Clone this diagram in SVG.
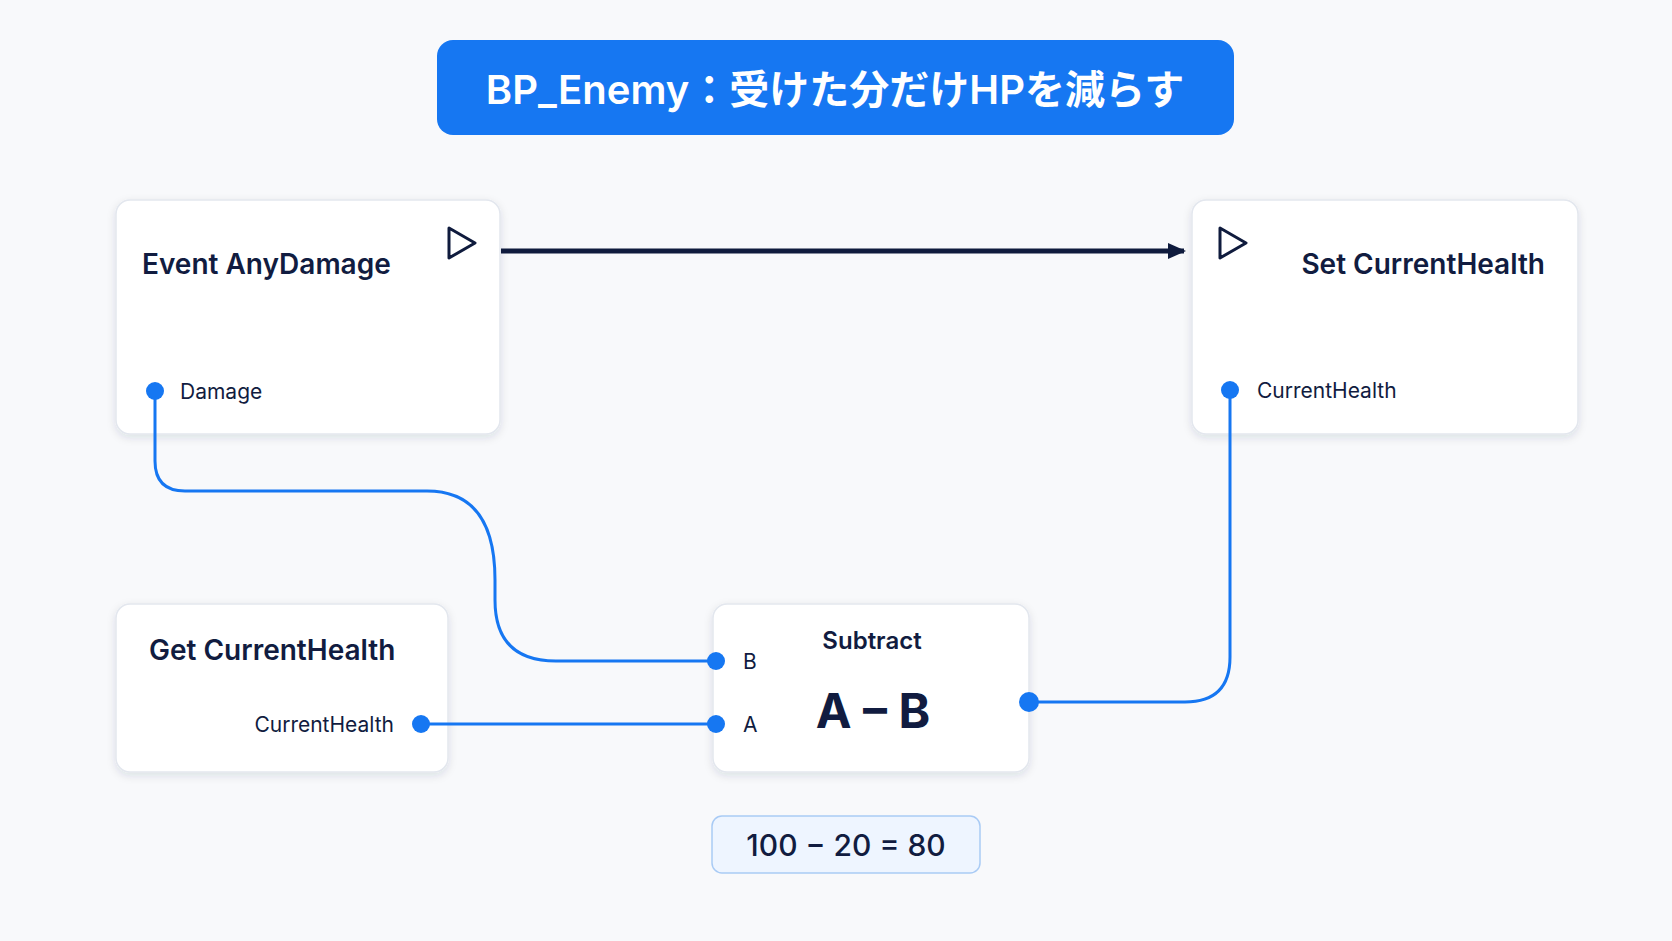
<svg xmlns="http://www.w3.org/2000/svg" width="1672" height="941" viewBox="0 0 1672 941">
<defs>
<filter id="sh" x="-10%" y="-10%" width="120%" height="130%"><feDropShadow dx="0" dy="3" stdDeviation="4" flood-color="#1a2a50" flood-opacity="0.12"/></filter>
<marker id="ah" markerWidth="20" markerHeight="20" refX="16" refY="10" orient="auto" markerUnits="userSpaceOnUse" viewBox="0 0 20 20"><path d="M0,2 L18,10 L0,18 z" fill="#0f1b3d"/></marker>
<style>
text{font-family:"Inter","Noto Sans","Noto Sans CJK JP",sans-serif;fill:#111c40}
.node{fill:#fff;stroke:#e3e7ee;stroke-width:1.5;filter:url(#sh)}
.t{font-size:28px;font-weight:600}
.p{font-size:21px}
.pin{fill:#1677f2}
.w{fill:none;stroke:#1677f2;stroke-width:3}
.ex{fill:none;stroke:#0f1b3d;stroke-width:3;stroke-linejoin:round}
</style>
</defs>
<rect width="1672" height="941" fill="#f8f9fb"/>
<g id="title">
<rect x="437" y="40" width="797" height="95" rx="16" fill="#1677f2"/>
<text x="835" y="104" text-anchor="middle" style="font-size:40px;font-weight:600;fill:#fff">BP_Enemy：受けた分だけHPを減らす</text>
</g>
<g id="event">
<rect class="node" x="116" y="200" width="384" height="234" rx="14"/>
<text class="t" x="142" y="274">Event AnyDamage</text>
<path class="ex" d="M449,228 L475,243 L449,258 Z"/>
<text class="p" x="180" y="399">Damage</text>
</g>
<g id="set">
<rect class="node" x="1192" y="200" width="386" height="234" rx="14"/>
<path class="ex" d="M1220,228 L1246,243 L1220,258 Z"/>
<text class="t" x="1545" y="274" text-anchor="end">Set CurrentHealth</text>
<text class="p" x="1257" y="398">CurrentHealth</text>
</g>
<g id="get">
<rect class="node" x="116" y="604" width="332" height="168" rx="14"/>
<text class="t" x="149" y="660">Get CurrentHealth</text>
<text class="p" x="394" y="732" text-anchor="end">CurrentHealth</text>
</g>
<g id="subtract">
<rect class="node" x="713" y="604" width="316" height="168" rx="14"/>
<text x="872" y="649" text-anchor="middle" style="font-size:24px;font-weight:600">Subtract</text>
<text class="p" x="743" y="669">B</text>
<text class="p" x="743" y="732">A</text>
<text x="873" y="728" text-anchor="middle" style="font-size:48px;font-weight:700">A – B</text>
</g>
<g id="formula">
<rect x="712" y="816" width="268" height="57" rx="10" fill="#eef5ff" stroke="#a9cbf5" stroke-width="1.5"/>
<text x="846" y="856" text-anchor="middle" style="font-size:30px;font-weight:500">100 − 20 = 80</text>
</g>
<g id="connectors">
<line x1="501" y1="251" x2="1184" y2="251" stroke="#0f1b3d" stroke-width="5" marker-end="url(#ah)"/>
<path class="w" d="M155,391 V461 Q155,491 185,491 H427 Q495,491 495,580 V600 Q495,661 556,661 H716"/>
<path class="w" d="M421,724 H716"/>
<path class="w" d="M1029,702 H1185 Q1230,702 1230,657 V390"/>
<circle class="pin" cx="155" cy="391" r="9"/>
<circle class="pin" cx="1230" cy="390" r="9"/>
<circle class="pin" cx="421" cy="724" r="9"/>
<circle class="pin" cx="716" cy="661" r="9"/>
<circle class="pin" cx="716" cy="724" r="9"/>
<circle class="pin" cx="1029" cy="702" r="10"/>
</g>
</svg>
